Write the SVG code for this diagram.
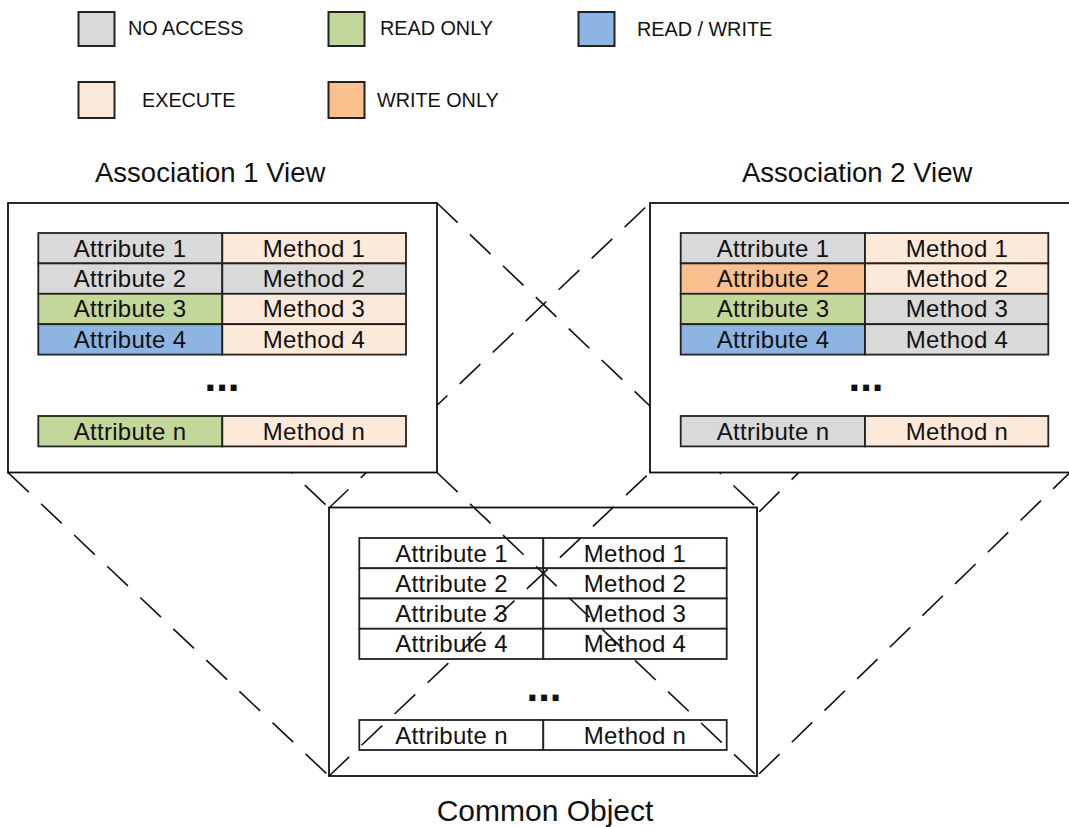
<svg xmlns="http://www.w3.org/2000/svg" width="1069" height="827" viewBox="0 0 1069 827">
  <style>
    text { font-family: "Liberation Sans", Arial, sans-serif; fill: #111; }
    .legend-label { font-size: 19.8px; }
    .title { font-size: 27.5px; }
    .title-lg { font-size: 30px; }
    .cell-text { font-size: 24px; text-anchor: middle; letter-spacing: 0.3px; }
    .dots { font-size: 42px; font-weight: bold; text-anchor: middle; }
    .swatch { stroke: #222; stroke-width: 2; }
    .frame { fill: #fff; stroke: #111; stroke-width: 1.8; }
    .cell { stroke: #222; stroke-width: 1.8; }
    .na { fill: #D9D9D9; }
    .ro { fill: #C4D79B; }
    .rw { fill: #8DB4E2; }
    .ex { fill: #FDE9D9; }
    .wo { fill: #FABF8F; }
    .plain { fill: #fff; }
    .proj { fill: none; stroke: #111; stroke-width: 1.6; stroke-dasharray: 28.5 17; }
  </style>

  <!-- Legend -->
  <g id="legend">
    <g id="legend-no-access">
      <rect class="swatch na" x="78.5" y="12" width="36" height="34"/>
      <text class="legend-label" x="128" y="35">NO ACCESS</text>
    </g>
    <g id="legend-read-only">
      <rect class="swatch ro" x="328.5" y="12" width="36" height="34"/>
      <text class="legend-label" x="380" y="35">READ ONLY</text>
    </g>
    <g id="legend-read-write">
      <rect class="swatch rw" x="578.5" y="12" width="36" height="34"/>
      <text class="legend-label" x="637" y="36">READ / WRITE</text>
    </g>
    <g id="legend-execute">
      <rect class="swatch ex" x="78.5" y="82" width="36" height="36"/>
      <text class="legend-label" x="142" y="107">EXECUTE</text>
    </g>
    <g id="legend-write-only">
      <rect class="swatch wo" x="328.5" y="82" width="36" height="36"/>
      <text class="legend-label" x="377" y="107">WRITE ONLY</text>
    </g>
  </g>

  <!-- Titles -->
  <text class="title" x="95" y="182">Association 1 View</text>
  <text class="title" x="742" y="182">Association 2 View</text>
  <text class="title-lg" x="545" y="821" text-anchor="middle">Common Object</text>

  <!-- Shared object (drawn below the projection lines) -->
  <g id="common-object">
    <rect class="frame" x="329" y="507.5" width="428" height="268.5"/>
    <g class="cell plain">
      <rect x="359.3" y="538" width="184" height="30.25"/>
      <rect x="543.3" y="538" width="183.4" height="30.25"/>
      <rect x="359.3" y="568.25" width="184" height="30.25"/>
      <rect x="543.3" y="568.25" width="183.4" height="30.25"/>
      <rect x="359.3" y="598.5" width="184" height="30.25"/>
      <rect x="543.3" y="598.5" width="183.4" height="30.25"/>
      <rect x="359.3" y="628.75" width="184" height="30.25"/>
      <rect x="543.3" y="628.75" width="183.4" height="30.25"/>
      <rect x="359.3" y="720" width="184" height="30"/>
      <rect x="543.3" y="720" width="183.4" height="30"/>
    </g>
    <text class="cell-text" x="451.5" y="561.5">Attribute 1</text>
    <text class="cell-text" x="635" y="561.5">Method 1</text>
    <text class="cell-text" x="451.5" y="591.75">Attribute 2</text>
    <text class="cell-text" x="635" y="591.75">Method 2</text>
    <text class="cell-text" x="451.5" y="622">Attribute 3</text>
    <text class="cell-text" x="635" y="622">Method 3</text>
    <text class="cell-text" x="451.5" y="652.25">Attribute 4</text>
    <text class="cell-text" x="635" y="652.25">Method 4</text>
    <text class="dots" x="544" y="701">...</text>
    <text class="cell-text" x="451.5" y="743.5">Attribute n</text>
    <text class="cell-text" x="635" y="743.5">Method n</text>
  </g>

  <!-- Projection lines from each view's corners to the shared object's corners -->
  <g id="connectors">
    <line class="proj" x1="437" y1="203" x2="757" y2="508"/>
    <line class="proj" x1="650" y1="203" x2="329" y2="508" stroke-dashoffset="39"/>
    <line class="proj" x1="8" y1="203" x2="329" y2="508" stroke-dasharray="28.5 17 28.5 17 28.5 17 28.5 17 28.5 17 28.5 17 28.5 17 28.5 17 90 10"/>
    <line class="proj" x1="1070" y1="203" x2="757" y2="514"/>
    <line class="proj" x1="8" y1="472.5" x2="329" y2="776"/>
    <line class="proj" x1="437" y1="472.5" x2="757" y2="776"/>
    <line class="proj" x1="650" y1="472.5" x2="329" y2="776" stroke-dashoffset="41"/>
    <line class="proj" x1="1070" y1="472.5" x2="757" y2="776" stroke-dashoffset="5"/>
  </g>

  <!-- Association 1 view -->
  <g id="association-1-view">
    <rect class="frame" x="8" y="203" width="429" height="269.5"/>
    <g class="cell">
      <rect class="na" x="38.3" y="233" width="184" height="30.4"/>
      <rect class="ex" x="222.3" y="233" width="183.7" height="30.4"/>
      <rect class="na" x="38.3" y="263.4" width="184" height="30.4"/>
      <rect class="na" x="222.3" y="263.4" width="183.7" height="30.4"/>
      <rect class="ro" x="38.3" y="293.8" width="184" height="30.4"/>
      <rect class="ex" x="222.3" y="293.8" width="183.7" height="30.4"/>
      <rect class="rw" x="38.3" y="324.2" width="184" height="30.4"/>
      <rect class="ex" x="222.3" y="324.2" width="183.7" height="30.4"/>
      <rect class="ro" x="38.3" y="416" width="184" height="30.4"/>
      <rect class="ex" x="222.3" y="416" width="183.7" height="30.4"/>
    </g>
    <text class="cell-text" x="130" y="256.5">Attribute 1</text>
    <text class="cell-text" x="314" y="256.5">Method 1</text>
    <text class="cell-text" x="130" y="286.9">Attribute 2</text>
    <text class="cell-text" x="314" y="286.9">Method 2</text>
    <text class="cell-text" x="130" y="317.3">Attribute 3</text>
    <text class="cell-text" x="314" y="317.3">Method 3</text>
    <text class="cell-text" x="130" y="347.7">Attribute 4</text>
    <text class="cell-text" x="314" y="347.7">Method 4</text>
    <text class="dots" x="222" y="391">...</text>
    <text class="cell-text" x="130" y="439.5">Attribute n</text>
    <text class="cell-text" x="314" y="439.5">Method n</text>
  </g>

  <!-- Association 2 view -->
  <g id="association-2-view">
    <rect class="frame" x="650" y="203" width="420" height="269.5"/>
    <g class="cell">
      <rect class="na" x="680.7" y="233" width="184.3" height="30.4"/>
      <rect class="ex" x="865" y="233" width="183.3" height="30.4"/>
      <rect class="wo" x="680.7" y="263.4" width="184.3" height="30.4"/>
      <rect class="ex" x="865" y="263.4" width="183.3" height="30.4"/>
      <rect class="ro" x="680.7" y="293.8" width="184.3" height="30.4"/>
      <rect class="na" x="865" y="293.8" width="183.3" height="30.4"/>
      <rect class="rw" x="680.7" y="324.2" width="184.3" height="30.4"/>
      <rect class="na" x="865" y="324.2" width="183.3" height="30.4"/>
      <rect class="na" x="680.7" y="416" width="184.3" height="30.4"/>
      <rect class="ex" x="865" y="416" width="183.3" height="30.4"/>
    </g>
    <text class="cell-text" x="773" y="256.5">Attribute 1</text>
    <text class="cell-text" x="957" y="256.5">Method 1</text>
    <text class="cell-text" x="773" y="286.9">Attribute 2</text>
    <text class="cell-text" x="957" y="286.9">Method 2</text>
    <text class="cell-text" x="773" y="317.3">Attribute 3</text>
    <text class="cell-text" x="957" y="317.3">Method 3</text>
    <text class="cell-text" x="773" y="347.7">Attribute 4</text>
    <text class="cell-text" x="957" y="347.7">Method 4</text>
    <text class="dots" x="866" y="391">...</text>
    <text class="cell-text" x="773" y="439.5">Attribute n</text>
    <text class="cell-text" x="957" y="439.5">Method n</text>
  </g>
</svg>
